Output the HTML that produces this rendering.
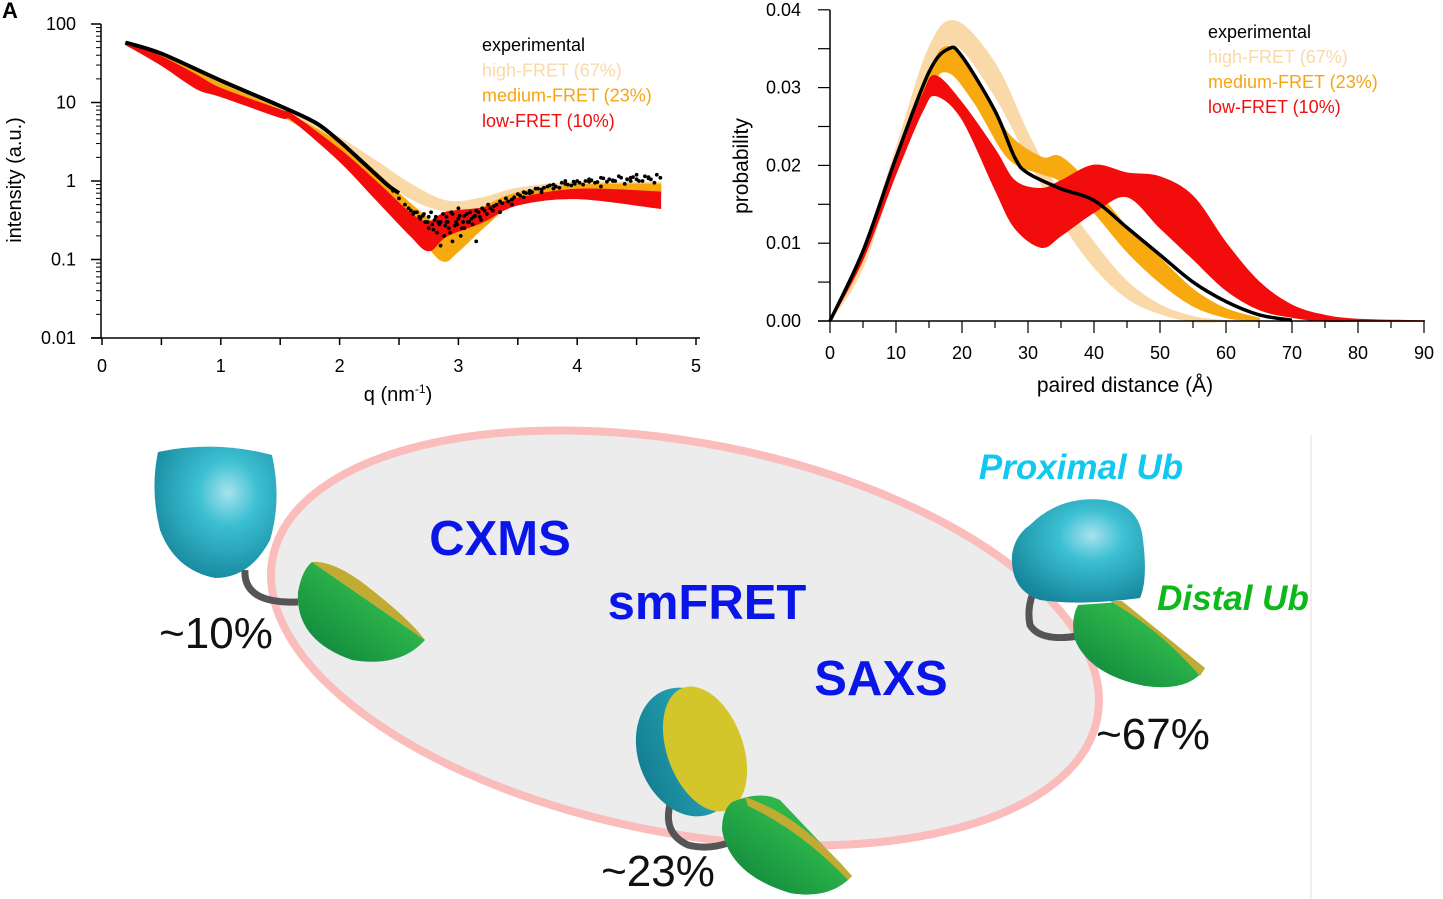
<!DOCTYPE html>
<html><head><meta charset="utf-8"><style>
html,body{margin:0;padding:0;background:#fff;width:1443px;height:899px;overflow:hidden}
svg{position:absolute;left:0;top:0;font-family:"Liberation Sans",sans-serif}
</style></head><body>
<svg id="root" width="1443" height="899" viewBox="0 0 1443 899">
<defs>
<radialGradient id="cyanG" cx="0.6" cy="0.35" r="0.7"><stop offset="0" stop-color="#a8e2ee"/><stop offset="0.35" stop-color="#3cc0d2"/><stop offset="1" stop-color="#16869c"/></radialGradient>
<linearGradient id="greenG" x1="0" y1="1" x2="1" y2="0"><stop offset="0" stop-color="#0b7f3a"/><stop offset="0.6" stop-color="#2cb34a"/><stop offset="1" stop-color="#36c04d"/></linearGradient>
<linearGradient id="cyanSide" x1="0" y1="0" x2="1" y2="0"><stop offset="0" stop-color="#157f93"/><stop offset="1" stop-color="#2db3c4"/></linearGradient>
</defs>
<g id="saxs"></g>
<g id="pr"></g>

<g>
<line x1="1311" y1="435" x2="1311" y2="899" stroke="#eeeae0" stroke-width="1.5"/>
<ellipse cx="685" cy="638" rx="420" ry="195" transform="rotate(11 685 638)" fill="#ececec" stroke="#fbbcbc" stroke-width="8"/>
<text x="500" y="555" font-size="49" font-weight="bold" fill="#0a16e8" text-anchor="middle">CXMS</text>
<text x="707" y="619" font-size="49" font-weight="bold" fill="#0a16e8" text-anchor="middle">smFRET</text>
<text x="881" y="695" font-size="49" font-weight="bold" fill="#0a16e8" text-anchor="middle">SAXS</text>
<text x="1081" y="479" font-size="35" font-weight="bold" font-style="italic" fill="#12c8f0" text-anchor="middle">Proximal Ub</text>
<text x="1233" y="610" font-size="35" font-weight="bold" font-style="italic" fill="#0cb81a" text-anchor="middle">Distal Ub</text>
<text x="216" y="648" font-size="44" fill="#111" text-anchor="middle">~10%</text>
<text x="1153" y="749" font-size="44" fill="#111" text-anchor="middle">~67%</text>
<text x="658" y="886" font-size="44" fill="#111" text-anchor="middle">~23%</text>

<g>
<path d="M245,570 Q243,604 298,602" fill="none" stroke="#555" stroke-width="7"/>
<path d="M158,452 Q215,440 272,455 Q282,500 270,540 Q250,578 215,578 Q175,570 160,530 Q150,490 158,452 Z" fill="url(#cyanG)"/>
<path d="M312,562 L425,640 Q400,668 352,660 Q295,640 298,592 Q302,570 312,562 Z" fill="url(#greenG)"/>
<path d="M312,562 Q335,560 372,590 Q410,620 425,640 Z" fill="#c1ab32"/>
</g>
<g>
<path d="M1043,575 Q1025,600 1030,625 Q1040,642 1078,636" fill="none" stroke="#555" stroke-width="7"/>
<path d="M1030,525 Q1060,495 1105,500 Q1140,505 1143,540 Q1148,580 1140,598 Q1080,606 1040,600 Q1010,590 1012,555 Q1015,535 1030,525Z" fill="url(#cyanG)"/>
<path d="M1078,605 L1120,602 L1205,668 Q1190,692 1145,686 Q1090,675 1075,640 Q1070,620 1078,605 Z" fill="url(#greenG)"/>
<path d="M1110,601 L1122,601 L1205,668 L1200,676 Q1160,630 1110,601Z" fill="#c1ab32"/>
</g>
<g>
<path d="M672,798 Q660,832 688,845 Q708,850 728,843" fill="none" stroke="#555" stroke-width="7"/>
<ellipse cx="688" cy="752" rx="50" ry="66" transform="rotate(-20 688 752)" fill="url(#cyanSide)"/>
<ellipse cx="705" cy="749" rx="38" ry="65" transform="rotate(-20 705 749)" fill="#d3c52a"/>
<path d="M732,802 Q760,790 780,800 L852,876 Q830,900 790,893 Q730,875 722,830 Q722,810 732,802Z" fill="url(#greenG)"/>
<path d="M745,797 Q800,815 852,876 L848,880 Q800,830 748,806Z" fill="#c1ab32"/>
</g>
<text x="2" y="18" font-size="22" font-weight="bold" fill="#000">A</text>
</g>
</svg>
<script>
// ---------- SAXS chart data ----------
const saxsYTicks = [100, 10, 1, 0.1, 0.01];
const saxsYTickLabels = ["100", "10", "1", "0.1", "0.01"];
const saxsXTicks = [0, 1, 2, 3, 4, 5];
const highQ = [0.2, 0.5, 1.0, 1.5, 2.0, 2.3, 2.6, 2.9, 3.2, 3.5, 4.0, 4.7];
const highUpper = [58, 42, 20, 9, 3.5, 1.8, 0.9, 0.55, 0.6, 0.8, 0.95, 0.95];
const highLower = [55, 36, 15, 7.5, 2.8, 1.3, 0.6, 0.42, 0.45, 0.65, 0.8, 0.8];
const medQ = [0.2, 0.5, 1.0, 1.5, 2.0, 2.3, 2.6, 2.85, 3.0, 3.2, 3.5, 4.0, 4.7];
const medUpper = [58, 40, 17, 8, 3, 1.3, 0.5, 0.26, 0.3, 0.45, 0.7, 0.88, 0.9];
const medLower = [55, 35, 14, 7, 2.3, 0.9, 0.3, 0.1, 0.13, 0.25, 0.55, 0.75, 0.7];
const lowQ = [0.2, 0.5, 0.8, 1.0, 1.5, 1.6, 2.0, 2.3, 2.6, 2.75, 2.9, 3.2, 3.5, 4.0, 4.7];
const lowUpper = [58, 38, 22, 15, 8, 7, 2.5, 1.0, 0.38, 0.3, 0.4, 0.45, 0.6, 0.78, 0.72];
const lowLower = [55, 30, 15, 12, 6.5, 6, 1.8, 0.6, 0.2, 0.13, 0.2, 0.3, 0.5, 0.6, 0.45];
const expQ = [0.2, 0.5, 1.0, 1.5, 1.8, 2.0, 2.2, 2.4, 2.5];
const expI = [58, 42, 19, 9, 5.5, 3.2, 1.7, 0.9, 0.7];
const dotQ = [2.45,2.5,2.55,2.6,2.62,2.65,2.68,2.7,2.72,2.75,2.78,2.8,2.82,2.85,2.88,2.9,2.92,2.95,2.98,3.0,3.02,3.05,3.08,3.1,3.12,3.15,3.18,3.2,3.25,3.3,3.35,3.4,3.45,3.5,3.55,3.6,3.65,3.7,3.75,3.8,3.85,3.9,3.95,4.0,4.05,4.1,4.15,4.2,4.25,4.3,4.35,4.4,4.45,4.5,4.55,4.6,4.65,4.7,2.85,2.95,3.05,3.15,2.75,2.9,3.0,3.35,3.6,3.9,4.2,4.5,
  2.58,2.63,2.67,2.71,2.74,2.77,2.81,2.84,2.87,2.91,2.94,2.97,3.01,3.04,3.07,3.11,3.14,3.17,3.22,3.27,3.32,3.37,3.42,3.47,3.52,3.57,3.62,3.67,3.72,3.77,3.82,3.87,3.92,3.97,4.02,4.07,4.12,4.17,4.22,4.27,4.32,4.37,4.42,4.47,4.52,4.57,4.62,4.67,2.79,2.83,2.89,2.93,2.99,3.03,3.09,3.13,3.19,3.24,3.29,3.45,3.55,3.7,3.8,3.98,4.1,4.3,4.45,4.6];
const dotI = [0.75,0.6,0.5,0.42,0.38,0.4,0.33,0.36,0.3,0.35,0.28,0.32,0.22,0.3,0.2,0.35,0.25,0.38,0.3,0.33,0.2,0.36,0.3,0.4,0.28,0.42,0.35,0.45,0.5,0.48,0.55,0.6,0.58,0.68,0.72,0.75,0.8,0.78,0.85,0.9,0.82,0.92,0.88,1.0,0.9,1.05,0.95,1.1,0.98,1.0,1.15,0.92,1.1,1.2,1.0,1.12,0.95,1.1,0.15,0.17,0.25,0.17,0.25,0.3,0.45,0.4,0.7,1.0,0.85,1.05,
  0.45,0.4,0.35,0.38,0.3,0.4,0.35,0.28,0.38,0.3,0.4,0.27,0.36,0.3,0.38,0.33,0.36,0.4,0.42,0.45,0.5,0.52,0.55,0.62,0.65,0.7,0.72,0.8,0.82,0.88,0.85,0.95,0.9,0.98,0.95,1.0,1.02,0.97,1.08,1.05,1.0,1.1,1.05,1.12,1.0,1.15,1.05,1.2,0.24,0.3,0.27,0.22,0.28,0.25,0.3,0.35,0.32,0.38,0.42,0.5,0.62,0.72,0.8,0.92,0.98,1.02,1.0,1.08];

// ---------- P(r) chart data ----------
const prYTicks = [0, 0.01, 0.02, 0.03, 0.04];
const prYTickLabels = ["0.00", "0.01", "0.02", "0.03", "0.04"];
const prXTicks = [0, 10, 20, 30, 40, 50, 60, 70, 80, 90];
const hR = [0, 5, 10, 15, 19, 25, 30, 35, 40, 45, 50, 55, 60];
const hUp = [0, 0.009, 0.022, 0.035, 0.0385, 0.033, 0.024, 0.016, 0.010, 0.005, 0.002, 0.0005, 0];
const hLo = [0, 0.007, 0.020, 0.032, 0.0355, 0.029, 0.021, 0.013, 0.007, 0.003, 0.001, 0, 0];
const mR = [0, 5, 10, 15, 18, 22, 27, 32, 35, 40, 45, 50, 55, 60, 65];
const mUp = [0, 0.009, 0.021, 0.032, 0.0352, 0.031, 0.024, 0.021, 0.021, 0.017, 0.012, 0.008, 0.004, 0.0015, 0.0003];
const mLo = [0, 0.008, 0.020, 0.030, 0.032, 0.028, 0.021, 0.019, 0.018, 0.014, 0.009, 0.005, 0.002, 0.0005, 0];
const lR = [0, 5, 10, 14, 16, 20, 25, 28, 32, 35, 40, 45, 50, 55, 60, 65, 70, 75, 80, 90];
const lUp = [0, 0.009, 0.021, 0.029, 0.0315, 0.028, 0.022, 0.018, 0.017, 0.018, 0.020, 0.019, 0.0185, 0.016, 0.010, 0.005, 0.002, 0.0007, 0.0002, 0];
const lLo = [0, 0.008, 0.019, 0.027, 0.029, 0.026, 0.017, 0.012, 0.0095, 0.011, 0.014, 0.016, 0.012, 0.008, 0.004, 0.0015, 0.0005, 0, 0, 0];
const eR = [0, 5, 10, 15, 18, 20, 25, 28, 30, 35, 40, 45, 50, 55, 60, 65, 70];
const eP = [0, 0.009, 0.021, 0.032, 0.035, 0.034, 0.027, 0.021, 0.019, 0.017, 0.0155, 0.012, 0.0085, 0.005, 0.0025, 0.0008, 0.0001];

const NS = "http://www.w3.org/2000/svg";
function mk(parent, tag, attrs, txt) {
  const e = document.createElementNS(NS, tag);
  for (const k in attrs) e.setAttribute(k, attrs[k]);
  if (txt !== undefined) e.textContent = txt;
  parent.appendChild(e);
  return e;
}
function smooth(pts) {
  let d = "M" + pts[0][0] + "," + pts[0][1];
  for (let i = 0; i < pts.length - 1; i++) {
    const p0 = pts[Math.max(0, i - 1)], p1 = pts[i], p2 = pts[i + 1], p3 = pts[Math.min(pts.length - 1, i + 2)];
    const c1x = p1[0] + (p2[0] - p0[0]) / 6, c1y = p1[1] + (p2[1] - p0[1]) / 6;
    const c2x = p2[0] - (p3[0] - p1[0]) / 6, c2y = p2[1] - (p3[1] - p1[1]) / 6;
    d += " C" + c1x + "," + c1y + " " + c2x + "," + c2y + " " + p2[0] + "," + p2[1];
  }
  return d;
}
function bandPath(xs, up, lo, fx, fy) {
  const top = xs.map((x, i) => [fx(x), fy(up[i])]);
  const bot = xs.map((x, i) => [fx(x), fy(lo[i])]).reverse();
  return smooth(top) + " L" + smooth(bot).slice(1) + " Z";
}

// ===== SAXS chart =====
const sx = q => 102 + q * 118.8;
const sy = v => 24 + (2 - Math.log10(v)) * 78.5;
const S = document.getElementById("saxs");
let el;
el = mk(S, "path", {d: bandPath(highQ, highUpper, highLower, sx, sy), fill: "#fad9a8", stroke: "#fad9a8", "stroke-width": 2});


el = mk(S, "path", {d: bandPath(medQ, medUpper, medLower, sx, sy), fill: "#f8a90f", stroke: "#f8a90f", "stroke-width": 2});


el = mk(S, "path", {d: bandPath(lowQ, lowUpper, lowLower, sx, sy), fill: "#f20c0c", stroke: "#f20c0c", "stroke-width": 1.5});


el = mk(S, "path", {d: smooth(expQ.map((q, i) => [sx(q), sy(expI[i])])), fill: "none", stroke: "#000", "stroke-width": 4});


dotQ.forEach((q, i) => {
  const c = mk(S, "circle", {cx: sx(q), cy: sy(dotI[i]), r: 1.9, fill: "#000"});
  
  
});
el = mk(S, "line", {x1: 101, y1: 24, x2: 101, y2: 338, stroke: "#000", "stroke-width": 1.5});


el = mk(S, "line", {x1: 91, y1: 338, x2: 700, y2: 338, stroke: "#000", "stroke-width": 1.5});


saxsYTicks.forEach((v, i) => {
  mk(S, "line", {x1: 91, y1: sy(v), x2: 101, y2: sy(v), stroke: "#000", "stroke-width": 1.5});
  const t = mk(S, "text", {x: 76, y: sy(v) + 6, "font-size": 18, "text-anchor": "end"}, saxsYTickLabels[i]);
  
  
  if (i < saxsYTicks.length - 1) {
    for (let m = 2; m <= 9; m++) {
      const yy = sy(saxsYTicks[i + 1] * m);
      mk(S, "line", {x1: 96, y1: yy, x2: 101, y2: yy, stroke: "#000", "stroke-width": 1});
    }
  }
});
for (let q = 0; q <= 5; q += 0.5) {
  mk(S, "line", {x1: sx(q), y1: 338, x2: sx(q), y2: 345, stroke: "#000", "stroke-width": 1.5});
}
saxsXTicks.forEach(q => {
  const t = mk(S, "text", {x: sx(q), y: 372, "font-size": 18, "text-anchor": "middle"}, String(q));
  
  
});
el = mk(S, "text", {x: 398, y: 401, "font-size": 20, "text-anchor": "middle"}, "q (nm");


mk(el, "tspan", {"font-size": 12, dy: -8}, "-1");
mk(el, "tspan", {dy: 8}, ")");
el = mk(S, "text", {x: 21, y: 180, "font-size": 20, "text-anchor": "middle", transform: "rotate(-90 21 180)"}, "intensity (a.u.)");


[["experimental", "#000"], ["high-FRET (67%)", "#fad9a8"], ["medium-FRET (23%)", "#f7a410"], ["low-FRET (10%)", "#f01010"]].forEach((L, i) => {
  const t = mk(S, "text", {x: 482, y: 51 + i * 25.3, "font-size": 18, fill: L[1]}, L[0]);
  
  
});

// ===== P(r) chart =====
const px = r => 830 + r * 6.6;
const py = p => 321 - p * 7780;
const P = document.getElementById("pr");
el = mk(P, "path", {d: bandPath(hR, hUp, hLo, px, py), fill: "#fad9a8", stroke: "#fad9a8", "stroke-width": 2});


el = mk(P, "path", {d: bandPath(mR, mUp, mLo, px, py), fill: "#f8a90f", stroke: "#f8a90f", "stroke-width": 2});


el = mk(P, "path", {d: bandPath(lR, lUp, lLo, px, py), fill: "#f20c0c", stroke: "#f20c0c", "stroke-width": 1.5});


el = mk(P, "path", {d: smooth(eR.map((r, i) => [px(r), py(eP[i])])), fill: "none", stroke: "#000", "stroke-width": 3.5});


el = mk(P, "line", {x1: 830, y1: 10, x2: 830, y2: 321, stroke: "#000", "stroke-width": 1.5});


el = mk(P, "line", {x1: 818, y1: 321, x2: 1425, y2: 321, stroke: "#000", "stroke-width": 1.5});


for (let p = 0; p <= 0.0401; p += 0.005) {
  mk(P, "line", {x1: 818, y1: py(p), x2: 830, y2: py(p), stroke: "#000", "stroke-width": 1.2});
}
prYTicks.forEach((p, i) => {
  const t = mk(P, "text", {x: 801, y: py(p) + 6, "font-size": 18, "text-anchor": "end"}, prYTickLabels[i]);
  
  
});
for (let r = 0; r <= 90; r += 5) {
  mk(P, "line", {x1: px(r), y1: 321, x2: px(r), y2: r % 10 === 0 ? 333 : 328, stroke: "#000", "stroke-width": 1.2});
}
prXTicks.forEach(r => {
  const t = mk(P, "text", {x: px(r), y: 359, "font-size": 18, "text-anchor": "middle"}, String(r));
  
  
});
el = mk(P, "text", {x: 1125, y: 392, "font-size": 21, "text-anchor": "middle"}, "paired distance (Å)");


el = mk(P, "text", {x: 748, y: 166, "font-size": 21, "text-anchor": "middle", transform: "rotate(-90 748 166)"}, "probability");


[["experimental", "#000"], ["high-FRET (67%)", "#fad9a8"], ["medium-FRET (23%)", "#f7a410"], ["low-FRET (10%)", "#f01010"]].forEach((L, i) => {
  const t = mk(P, "text", {x: 1208, y: 38 + i * 25, "font-size": 18, fill: L[1]}, L[0]);
  
  
});
</script>
</body></html>
